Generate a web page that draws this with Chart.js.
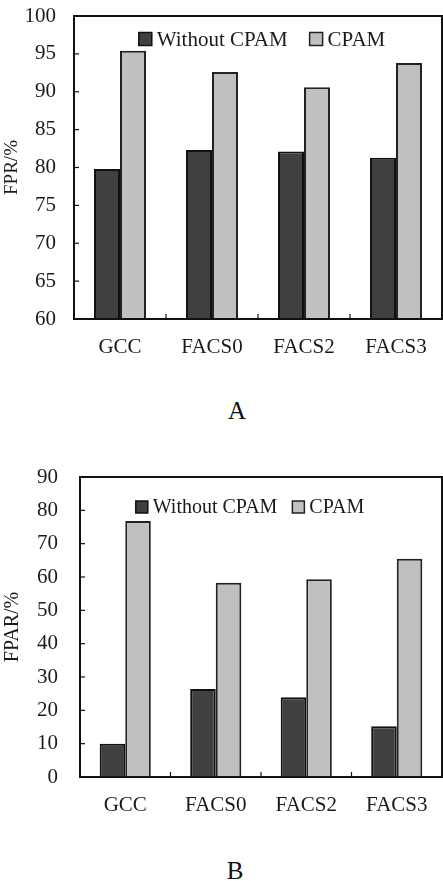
<!doctype html>
<html lang="en">

<head>
  <meta charset="utf-8">
  <title>FPR / FPAR with and without CPAM</title>
  <script src="https://cdn.jsdelivr.net/npm/chart.js"></script>
  <style>
    body { margin: 0; background: #fff; }
    .page { position: relative; width: 443px; height: 881px; }
    .box { position: absolute; left: 0; width: 443px; }
    .panel { position: absolute; width: 60px; text-align: center;
      font-family: "Liberation Serif", serif; font-size: 25px; color: #111; line-height: 1; }
  </style>
</head>

<body>
  <div class="page">
    <div class="box" style="top:0;height:360px"><canvas id="chartA"></canvas></div>
    <div class="panel" style="left:207px;top:398px">A</div>
    <div class="box" style="top:440px;height:380px"><canvas id="chartB"></canvas></div>
    <div class="panel" style="left:205px;top:858px">B</div>
  </div>
  <script>
    const categories = ['GCC', 'FACS0', 'FACS2', 'FACS3'];
    const seriesNames = ['Without CPAM', 'CPAM'];
    // panel A, FPR (%)
    const fprWithout = [79.8, 82.3, 82.1, 81.3];
    const fprCpam = [95.4, 92.6, 90.6, 93.8];
    // panel B, FPAR (%)
    const fparWithout = [10.0, 26.4, 23.9, 15.2];
    const fparCpam = [76.8, 58.3, 59.3, 65.5];

    const serif = 'Liberation Serif';
    const ink = '#1a1a1a';

    // frame round the plot area + short inside ticks
    const framePlugin = {
      id: 'frame',
      afterDraw(chart) {
        const { ctx, chartArea: a, scales } = chart;
        ctx.save();
        ctx.strokeStyle = '#111';
        ctx.lineWidth = 1.2;
        const y = scales.y, x = scales.x;
        y.ticks.forEach((t, i) => {
          const py = y.getPixelForTick(i);
          ctx.beginPath(); ctx.moveTo(a.left, py); ctx.lineTo(a.left + 5, py); ctx.stroke();
        });
        for (let i = 0; i < x.ticks.length - 1; i++) {
          const px = (x.getPixelForTick(i) + x.getPixelForTick(i + 1)) / 2;
          ctx.beginPath(); ctx.moveTo(px, a.bottom); ctx.lineTo(px, a.bottom - 5); ctx.stroke();
        }
        ctx.lineWidth = 2;
        ctx.strokeRect(a.left, a.top, a.right - a.left, a.bottom - a.top);
        ctx.restore();
      }
    };

    // legend drawn inside the plot area
    const innerLegend = {
      id: 'innerLegend',
      afterDraw(chart, args, o) {
        const { ctx } = chart;
        ctx.save();
        ctx.font = o.size + 'px "' + serif + '"';
        const items = chart.data.datasets.map(d => ({ d, w: ctx.measureText(d.label).width }));
        let total = items.reduce((s, it) => s + o.box + o.gap + it.w, 0) + o.itemGap * (items.length - 1);
        let x = o.cx - total / 2;
        items.forEach(it => {
          ctx.fillStyle = it.d.backgroundColor;
          ctx.fillRect(x, o.y - o.box / 2, o.box, o.box);
          ctx.strokeStyle = it.d.borderColor;
          ctx.lineWidth = 1.5;
          ctx.strokeRect(x, o.y - o.box / 2, o.box, o.box);
          ctx.fillStyle = ink;
          ctx.textBaseline = 'middle';
          ctx.textAlign = 'left';
          ctx.fillText(it.d.label, x + o.box + o.gap, o.y + 1);
          x += o.box + o.gap + it.w + o.itemGap;
        });
        ctx.restore();
      }
    };

    function makeChart(id, without, cpam, cfg) {
      return new Chart(document.getElementById(id), {
        type: 'bar',
        data: {
          labels: categories,
          datasets: [
            { label: seriesNames[0], data: without, backgroundColor: '#404040', borderColor: '#111', borderWidth: 2 },
            { label: seriesNames[1], data: cpam, backgroundColor: '#c0c0c0', borderColor: '#222', borderWidth: 2 }
          ]
        },
        options: {
          responsive: true,
          maintainAspectRatio: false,
          animation: false,
          layout: { padding: { top: cfg.top, right: 1, left: 0, bottom: 0 } },
          datasets: { bar: { categoryPercentage: 0.565, barPercentage: 1 } },
          plugins: {
            legend: { display: false },
            tooltip: { enabled: false },
            innerLegend: cfg.legend
          },
          scales: {
            x: {
              grid: { display: false },
              border: { display: false },
              ticks: { color: ink, padding: 8, font: { family: serif, size: 21 } },
              afterFit: s => { s.height = cfg.xHeight; }
            },
            y: {
              min: cfg.min, max: cfg.max,
              grid: { display: false, drawTicks: false },
              border: { display: false },
              ticks: { stepSize: cfg.step, color: ink, padding: cfg.tickPad, font: { family: serif, size: 21 } },
              title: { display: true, text: cfg.title, color: ink, padding: { top: 1, bottom: 0 }, font: { family: serif, size: cfg.titleSize } },
              afterFit: s => { s.width = cfg.yWidth; s.paddingTop = 0; }
            }
          }
        },
        plugins: [framePlugin, innerLegend]
      });
    }

    makeChart('chartA', fprWithout, fprCpam, {
      top: 16, xHeight: 41, yWidth: 74, tickPad: 18, min: 60, max: 100, step: 5,
      title: 'FPR/%', titleSize: 19,
      legend: { cx: 262, y: 39, box: 13, gap: 5, itemGap: 22, size: 21 }
    });
    makeChart('chartB', fparWithout, fparCpam, {
      top: 37, xHeight: 43, yWidth: 80, tickPad: 22, min: 0, max: 90, step: 10,
      title: 'FPAR/%', titleSize: 20,
      legend: { cx: 250, y: 507 - 440, box: 12, gap: 5, itemGap: 15, size: 20 }
    });
  </script>
</body>

</html>
